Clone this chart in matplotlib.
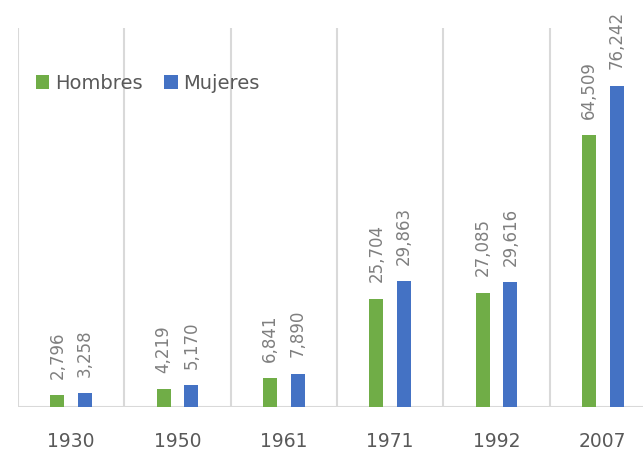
import numpy as np
import matplotlib.pyplot as plt

years = ["1930", "1950", "1961", "1971", "1992", "2007"]
hombres = [2796, 4219, 6841, 25704, 27085, 64509]
mujeres = [3258, 5170, 7890, 29863, 29616, 76242]

GREEN = "#70AD47"
BLUE = "#4472C4"

fig = plt.figure(figsize=(6.43, 4.53), dpi=100)
ax = fig.add_axes([18 / 643, 46 / 453, 638 / 643, 379 / 453])

x = np.arange(len(years))
w = 0.13
b1 = ax.bar(x - w, hombres, w, color=GREEN, label="Hombres")
b2 = ax.bar(x + w, mujeres, w, color=BLUE, label="Mujeres")

for bars, vals in ((b1, hombres), (b2, mujeres)):
    for rect, v in zip(bars, vals):
        ax.annotate("{:,}".format(v),
                    (rect.get_x() + rect.get_width() / 2, rect.get_height()),
                    xytext=(0, 12), textcoords="offset points",
                    rotation=90, ha="center", va="bottom",
                    fontsize=12, color="#7F7F7F")

ax.set_xlim(-0.5, len(years) - 0.5)
ax.set_ylim(0, 90000)

# category separators
for xv in np.arange(-0.5, len(years), 1.0):
    ax.axvline(xv, color="#D9D9D9", lw=1.5, zorder=0)
ax.axhline(0, color="#D9D9D9", lw=1.5, zorder=0)

for s in ax.spines.values():
    s.set_visible(False)
ax.set_yticks([])
ax.set_xticks(x)
ax.set_xticklabels(years, fontsize=13.5, color="#595959")
ax.tick_params(axis="x", length=0, pad=18)

leg = ax.legend(loc="upper left", bbox_to_anchor=(0.0, 0.925), ncol=2,
                frameon=False, fontsize=14, handlelength=0.7,
                handleheight=0.7, handletextpad=0.3, columnspacing=1.1,
                labelcolor="#595959")

fig.savefig("out.png", dpi=100)
